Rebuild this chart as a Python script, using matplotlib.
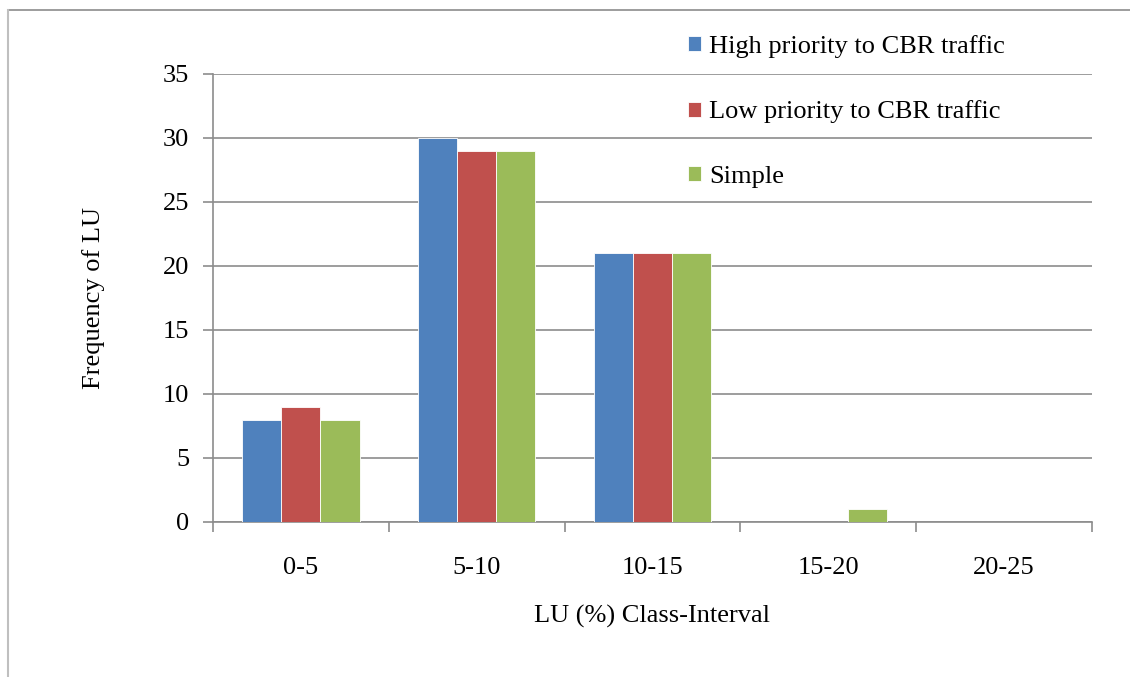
import matplotlib
matplotlib.use("Agg")
import matplotlib.pyplot as plt
from matplotlib.lines import Line2D
import numpy as np

categories = ["0-5", "5-10", "10-15", "15-20", "20-25"]
series_names = ["High priority to CBR traffic", "Low priority to CBR traffic", "Simple"]
high_priority = [8, 30, 21, 0, 0]
low_priority = [9, 29, 21, 0, 0]
simple = [8, 29, 21, 1, 0]
colors = ["#4F81BD", "#C0504D", "#9BBB59"]
y_ticks = [0, 5, 10, 15, 20, 25, 30, 35]

plt.rcParams["font.family"] = ["Liberation Serif", "DejaVu Serif"]
FS = 19

W, H = 1130, 677
fig = plt.figure(figsize=(W / 100, H / 100), dpi=100)
ax = fig.add_axes([213 / W, (H - 522) / H, (1092 - 213) / W, (522 - 74) / H])

x = np.arange(len(categories))
bw = 1 / 4.5
for i, (vals, name) in enumerate(zip([high_priority, low_priority, simple], series_names)):
    ax.bar(x + (i - 1) * bw, vals, width=bw, color=colors[i], edgecolor="white",
           linewidth=0.6, label=name, zorder=3)

ax.set_xlim(-0.5, len(categories) - 0.5)
ax.set_ylim(0, 35)
ax.set_yticks(y_ticks)
ax.yaxis.grid(True, color="#8C8C8C", linewidth=1.2, zorder=0)
ax.set_axisbelow(True)

for s in ["top", "right"]:
    ax.spines[s].set_visible(False)
for s in ["left", "bottom"]:
    ax.spines[s].set_color("#8C8C8C")
    ax.spines[s].set_linewidth(1.2)

ax.set_xticks(x)
ax.set_xticklabels(categories)
ax.set_xticks(np.arange(len(categories) + 1) - 0.5, minor=True)
ax.tick_params(axis="x", which="major", length=0, pad=25.5, labelsize=FS)
ax.tick_params(axis="x", which="minor", length=7, color="#8C8C8C", width=1.2)
ax.tick_params(axis="y", length=7, color="#8C8C8C", width=1.2, pad=10, labelsize=FS)

ax.set_xlabel("LU (%) Class-Interval", fontsize=FS, labelpad=18)
ax.set_ylabel("Frequency of LU", fontsize=FS, labelpad=42)

fig.legend(loc="upper left", bbox_to_anchor=(688 / W, 1 - 35 / H), frameon=False,
           fontsize=FS, handlelength=0.5, handleheight=0.5, handletextpad=0.3,
           labelspacing=1.61, borderpad=0, borderaxespad=0)

fig.add_artist(Line2D([8 / W, 1], [1 - 10 / H, 1 - 10 / H], transform=fig.transFigure,
                      color="#8C8C8C", linewidth=1.2))
fig.add_artist(Line2D([8 / W, 8 / W], [0, 1 - 10 / H], transform=fig.transFigure,
                      color="#BFBFBF", linewidth=1.5))

fig.savefig("out.png", dpi=100)
